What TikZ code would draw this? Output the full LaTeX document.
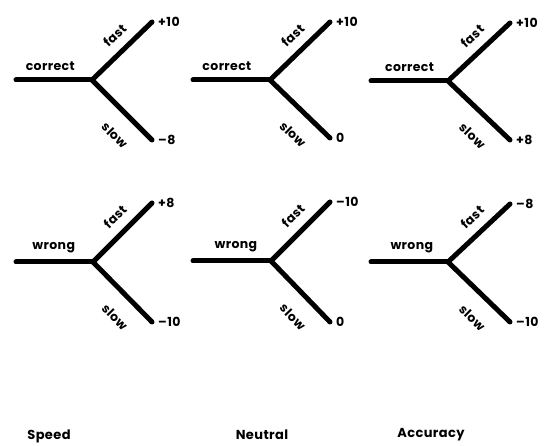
\documentclass[tikz,border=0pt]{standalone}
\usepackage{fontspec}
\newfontfamily\labfont{Poppins}[LetterSpace=3]
\begin{document}
\begin{tikzpicture}[x=1pt,y=1pt,
  branch/.style={line width=5pt,line cap=round,line join=miter},
  lab/.style={font=\labfont\bfseries\fontsize{12.5}{14}\selectfont,inner sep=1pt},
  val/.style={lab,anchor=west},
  title/.style={font=\labfont\bfseries\fontsize{13}{15}\selectfont,inner sep=1pt}]
\useasboundingbox (0,0) rectangle (549,446);
\foreach \id/\lx/\y/\jx/\ex/\fy/\sy/\w/\wp/\fv/\sv in {
  a/16/366/92/152/424/306/correct/0.45/+10/\textendash8,
  b/193/366/270/330/424/308/correct/0.44/+10/0,
  c/371/365/448/510/423/306/correct/0.5/+10/+8,
  d/16/184/93/152/243/124/wrong/0.49/+8/\textendash10,
  e/193/185/271/330/244/124/wrong/0.55/\textendash10/0,
  f/371/184/448/510/242/124/wrong/0.53/\textendash8/\textendash10}{
  \coordinate (l\id) at (\lx,\y);
  \coordinate (j\id) at (\jx,\y);
  \coordinate (f\id) at (\ex,\fy);
  \coordinate (s\id) at (\ex,\sy);
  \node[val] (fv\id) at ([xshift=5pt]f\id) {\fv};
  \node[val] (sv\id) at ([xshift=5pt]s\id) {\sv};
  \draw[branch] (l\id) -- node[lab,above=6pt,pos=\wp] (w\id) {\w} (j\id);
  \draw[branch] (j\id) -- node[lab,sloped,above=8pt,pos=0.57] (fl\id) {fast} (f\id);
  \draw[branch] (j\id) -- node[lab,sloped,below=15pt,pos=0.65] (sl\id) {slow} (s\id);
}
\node[title] (speed) at (49,10) {Speed};
\node[title] (neutral) at (262,11) {Neutral};
\node[title] (accuracy) at (431,11) {Accuracy};
\end{tikzpicture}
\end{document}
